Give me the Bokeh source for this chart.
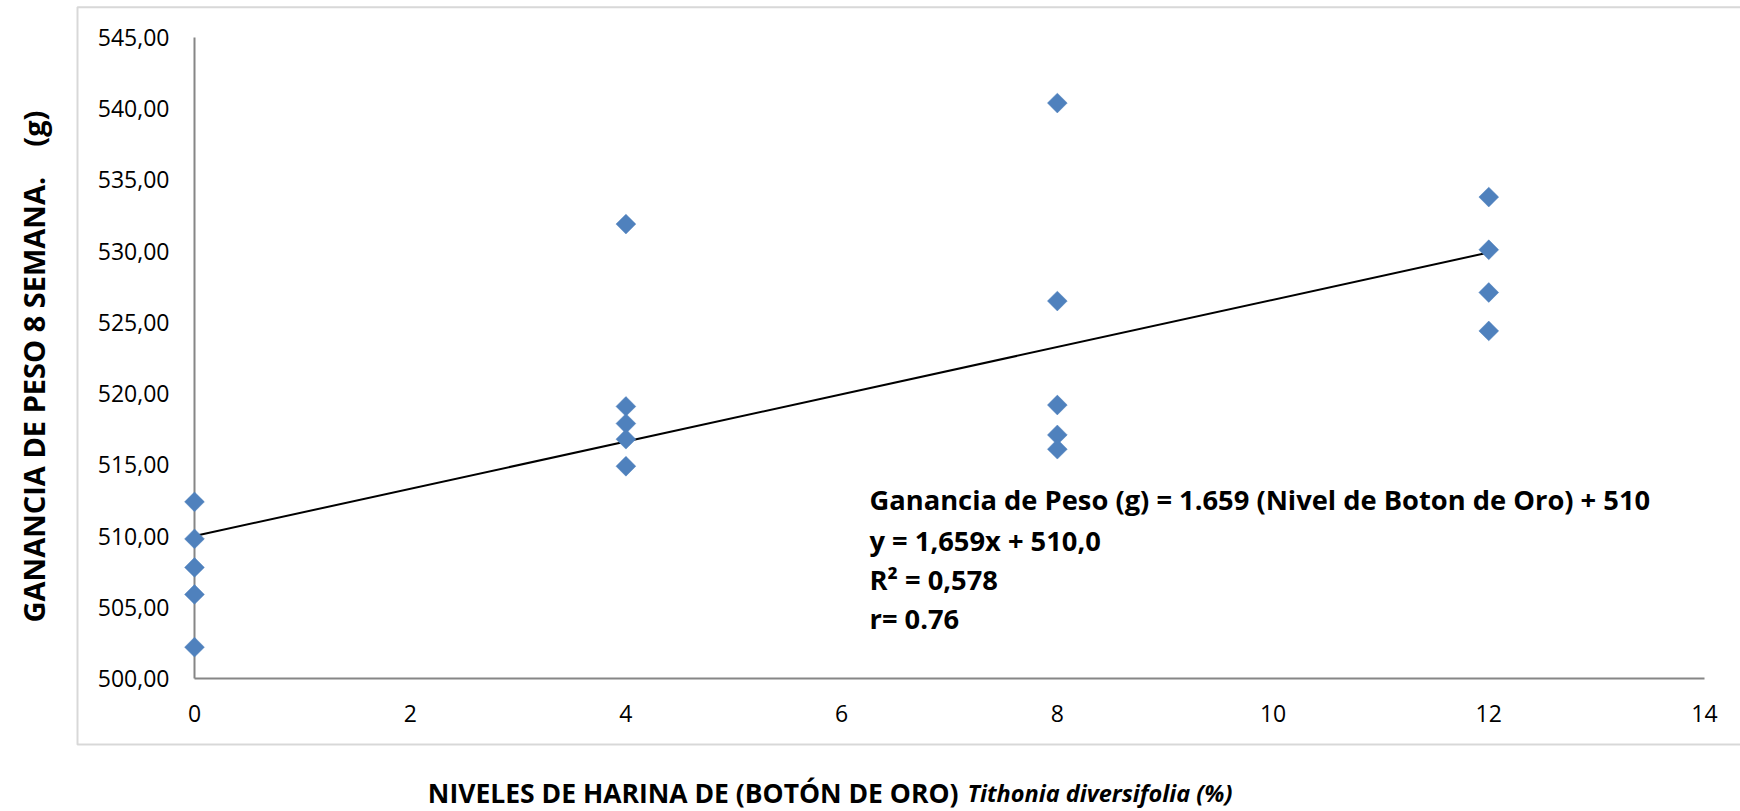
import math

from bokeh.embed import file_html
from bokeh.models import (BoxAnnotation, CustomJSTickFormatter, FixedTicker,
                          Label, LinearAxis, Range1d)
from bokeh.plotting import figure
from bokeh.resources import INLINE

# Weight gain after 8 weeks (g) for each level of Tithonia diversifolia meal (%)
nivel_0 = [512.4, 509.8, 507.8, 505.9, 502.2]
nivel_4 = [531.9, 519.1, 517.9, 516.8, 514.9]
nivel_8 = [540.4, 526.5, 519.2, 517.1, 516.1]
nivel_12 = [533.8, 530.1, 527.1, 524.4]
niveles = [0, 4, 8, 12]

# Linear fit reported with the chart
pendiente = 1.659
intercepto = 510.0
r2 = 0.578
r = 0.76

x_ticks = [0, 2, 4, 6, 8, 10, 12, 14]
y_ticks = [500, 505, 510, 515, 520, 525, 530, 535, 540, 545]

xs, ys = [], []
for nivel, valores in zip(niveles, [nivel_0, nivel_4, nivel_8, nivel_12]):
    xs += [nivel] * len(valores)
    ys += valores

FONT = "Open Sans"
GRIS = "#868686"

# The frame fills the whole canvas; the axes sit at fixed data locations so the
# titles and the chart-area border can be drawn around them without clipping.
W, H = 1740, 811
p = figure(width=W, height=H, output_backend="svg", toolbar_location=None,
           x_axis_type=None, y_axis_type=None,
           x_range=Range1d(-1.7987, 14.334), y_range=Range1d(490.663, 547.598),
           min_border=0)
p.outline_line_color = None
p.background_fill_color = "white"
p.border_fill_color = "white"

xa = LinearAxis(ticker=FixedTicker(ticks=x_ticks), fixed_location=y_ticks[0],
                bounds=(x_ticks[0], x_ticks[-1]), level="underlay")
ya = LinearAxis(ticker=FixedTicker(ticks=y_ticks), fixed_location=x_ticks[0],
                bounds=(y_ticks[0], y_ticks[-1]), level="underlay",
                formatter=CustomJSTickFormatter(
                    code="return tick.toFixed(2).replace('.', ',');"))
for ax, standoff in ((xa, 26), (ya, 25)):
    ax.axis_line_color = GRIS
    ax.axis_line_width = 2
    ax.major_tick_line_color = None
    ax.minor_tick_line_color = None
    ax.major_tick_out = 0
    ax.major_tick_in = 0
    ax.major_label_standoff = standoff
    ax.major_label_text_font = FONT
    ax.major_label_text_font_size = "23px"
    ax.major_label_text_color = "black"
p.add_layout(xa, "below")
p.add_layout(ya, "left")

# trend line
x_fit = [min(niveles), max(niveles)]
y_fit = [intercepto + pendiente * v for v in x_fit]
p.line(x_fit, y_fit, line_color="black", line_width=2)

# observations
p.scatter(xs, ys, marker="square", size=14, angle=math.pi / 4,
          fill_color="#4F81BD", line_color="#4F81BD", line_width=0.5)

# chart-area border (its right edge runs past the canvas)
p.add_layout(BoxAnnotation(left=77, right=W + 200, bottom=67, top=804.3,
                           left_units="screen", right_units="screen",
                           bottom_units="screen", top_units="screen",
                           fill_color=None, line_color="#7F7F7F", line_width=2,
                           level="overlay"))

# equation text
eq_lines = [
    "Ganancia de Peso (g) = 1.659 (Nivel de Boton de Oro) + 510",
    f"y = {pendiente:.3f}x + {intercepto:.1f}".replace(".", ","),
    f"R² = {r2:.3f}".replace(".", ","),
    f"r= {r}",
]
for txt, yy in zip(eq_lines, [311.6, 270.6, 231.7, 192.9]):
    p.add_layout(Label(x=869, y=yy, x_units="screen", y_units="screen",
                       text=txt, text_font=FONT, text_font_style="bold",
                       text_font_size="27.3px", text_color="black",
                       text_align="left", text_baseline="middle"))

# axis titles
p.add_layout(Label(x=33, y=445, x_units="screen", y_units="screen",
                   text="GANANCIA DE PESO 8 SEMANA.\u00a0\u00a0\u00a0\u00a0(g)",
                   angle=math.pi / 2, text_font=FONT,
                   text_font_style="bold", text_font_size="29px",
                   text_color="black", text_align="center",
                   text_baseline="middle"))
p.add_layout(Label(x=958, y=19, x_units="screen", y_units="screen",
                   text="NIVELES DE HARINA DE (BOTÓN DE ORO)",
                   text_font=FONT, text_font_style="bold",
                   text_font_size="26.5px", text_color="black",
                   text_align="right", text_baseline="middle"))
p.add_layout(Label(x=967, y=19, x_units="screen", y_units="screen",
                   text="Tithonia diversifolia (%)",
                   text_font=FONT, text_font_style="bold italic",
                   text_font_size="23.5px", text_color="black",
                   text_align="left", text_baseline="middle"))

open("out.html", "w").write(file_html(p, INLINE))
